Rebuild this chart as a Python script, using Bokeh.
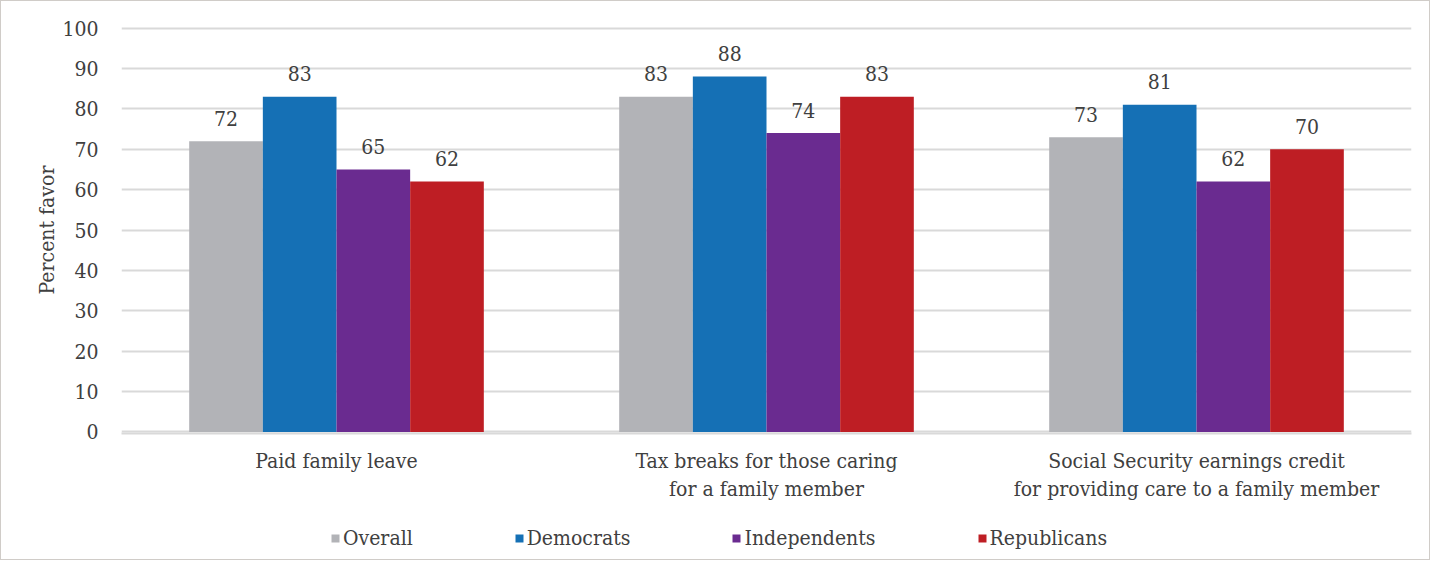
from bokeh.plotting import figure
from bokeh.layouts import column
from bokeh.models import (ColumnDataSource, FactorRange, Range1d, FixedTicker,
                          Legend, LegendItem)
from bokeh.transform import dodge
from bokeh.core.properties import value
from bokeh.embed import file_html
from bokeh.resources import INLINE

categories = ["Paid family leave",
              "Tax breaks for those caring\nfor a family member",
              "Social Security earnings credit\nfor providing care to a family member"]
series = ["Overall", "Democrats", "Independents", "Republicans"]
overall = [72, 83, 73]
democrats = [83, 88, 81]
independents = [65, 74, 62]
republicans = [62, 83, 70]
y_ticks = [0, 10, 20, 30, 40, 50, 60, 70, 80, 90, 100]

colors = ["#b2b3b7", "#1570b5", "#6a2b90", "#be1e24"]
values = [overall, democrats, independents, republicans]

FONT = "DejaVu Serif Condensed"
TXT = "#404040"
W = 1428

p = figure(x_range=FactorRange(*categories), y_range=Range1d(-0.4, 100.4),
           width=W, height=510, output_backend="svg", toolbar_location=None,
           min_border_left=120, min_border_right=18, min_border_top=25,
           min_border_bottom=78)
p.outline_line_color = None

bw = 0.1713
offsets = [-1.5 * bw, -0.5 * bw, 0.5 * bw, 1.5 * bw]
for name, vals, col, off in zip(series, values, colors, offsets):
    src = ColumnDataSource(dict(cat=categories, v=vals, t=[str(x) for x in vals]))
    p.vbar(x=dodge("cat", off, range=p.x_range), top="v", width=bw,
           source=src, fill_color=col, line_color=None)
    p.text(x=dodge("cat", off, range=p.x_range), y="v", text="t", source=src,
           text_align="center", text_baseline="middle", y_offset=-23,
           text_font=value(FONT), text_font_size="21px", text_color=TXT)

p.yaxis.ticker = FixedTicker(ticks=y_ticks)
p.yaxis.axis_line_color = None
p.yaxis.major_tick_line_color = None
p.yaxis.minor_tick_line_color = None
p.yaxis.major_label_text_font = FONT
p.yaxis.major_label_text_font_size = "21px"
p.yaxis.major_label_text_color = TXT
p.yaxis.major_label_standoff = 17
p.yaxis.axis_label = "Percent favor"
p.yaxis.axis_label_text_font = FONT
p.yaxis.axis_label_text_font_style = "normal"
p.yaxis.axis_label_text_font_size = "21px"
p.yaxis.axis_label_text_color = TXT
p.yaxis.axis_label_standoff = 0

p.xaxis.axis_line_color = "#d9d9d9"
p.xaxis.axis_line_width = 2
p.xaxis.major_tick_line_color = None
p.xaxis.minor_tick_line_color = None
p.xaxis.major_label_text_font = FONT
p.xaxis.major_label_text_font_size = "21px"
p.xaxis.major_label_text_color = TXT
p.xaxis.major_label_standoff = 9

p.xgrid.grid_line_color = None
p.ygrid.ticker = FixedTicker(ticks=y_ticks)
p.ygrid.grid_line_color = "#d9d9d9"
p.ygrid.grid_line_width = 2

# legend strip (zero-size proxy glyphs only carry the legend colours)
q = figure(width=W, height=48, output_backend="svg", toolbar_location=None,
           x_range=Range1d(0, 1), y_range=Range1d(0, 1),
           min_border_left=0, min_border_right=0, min_border_top=0,
           min_border_bottom=0)
q.axis.visible = False
q.grid.visible = False
q.outline_line_color = None
items = []
for name, col in zip(series, colors):
    r = q.vbar(x=[0], top=[0], bottom=[0], width=0, fill_color=col,
               line_color=None)
    items.append(LegendItem(label=name, renderers=[r]))
lg = Legend(items=items, location=(209, 9), orientation="horizontal",
            glyph_width=10, glyph_height=10, label_standoff=3,
            padding=0, margin=0, spacing=101, border_line_color=None,
            background_fill_alpha=0, label_text_font=FONT,
            label_text_font_size="21px", label_text_color=TXT)
q.add_layout(lg, "center")

layout = column(p, q, spacing=0, styles={"border": "1px solid #d0ccc8"})
open("out.html", "w").write(file_html(layout, INLINE))
